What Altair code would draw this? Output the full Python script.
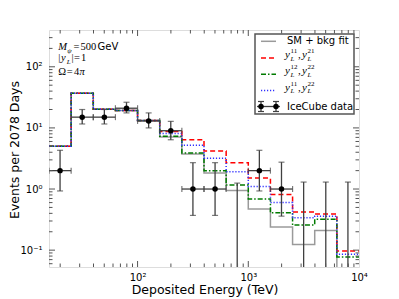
import altair as alt
import pandas as pd

# ---------------- data ----------------
bin_edges = [15.85, 25.12, 39.81, 63.10, 100.0, 158.5, 251.2, 398.1, 631.0,
             1000.0, 1585.0, 2512.0, 3981.0, 6310.0, 10000.0]
sm_fit = [5.0, 37.0, 20.2, 19.2, 13.2, 7.1, 3.75, 1.83, 0.95, 0.47, 0.24, 0.124, 0.21, 0.03]
y11_y21 = [5.0, 37.0, 20.2, 19.2, 13.2, 8.7, 6.4, 4.2, 2.7, 1.51, 0.81, 0.42, 0.39, 0.097]
y12_y22 = [5.0, 37.0, 20.2, 19.2, 13.2, 7.3, 3.9, 2.0, 1.16, 0.69, 0.41, 0.257, 0.32, 0.077]
y11_y22 = [5.0, 37.0, 20.2, 19.2, 13.2, 8.1, 5.2, 3.2, 1.92, 1.1, 0.60, 0.34, 0.36, 0.086]

ice_center = [19.95, 31.62, 50.12, 79.43, 125.9, 199.5, 316.2, 501.2, 794.3,
              1259.0, 1995.0, 3162.0, 5012.0, 7943.0]
ice_counts = [2, 15, 15, 21, 13, 9, 1, 1, 0, 2, 1, 0, 0, 0]
ice_upper = [4.3, 20.0, 20.0, 26.3, 17.6, 12.8, 2.7, 2.7, 1.25, 4.3, 2.75, 1.3, 1.3, 1.3]
ice_lower = [0.93, 11.6, 11.6, 17.6, 10.0, 6.4, 0.37, 0.37, 0.0, 0.93, 0.36, 0.0, 0.0, 0.0]

x_major = [100, 1000]
x_minor = [20, 30, 40, 50, 60, 70, 80, 90, 200, 300, 400, 500, 600, 700, 800, 900,
           2000, 3000, 4000, 5000, 6000, 7000, 8000, 9000]
y_major = [0.1, 1, 10, 100]
y_minor = [0.06, 0.07, 0.08, 0.09, 0.2, 0.3, 0.4, 0.5, 0.6, 0.7, 0.8, 0.9,
           2, 3, 4, 5, 6, 7, 8, 9, 20, 30, 40, 50, 60, 70, 80, 90, 200, 300]
x_tick_labels = [100, 1000, 10000]
y_tick_labels = [0.1, 1, 10, 100]

# ---------------- layout / styling ----------------
W, H = 310, 237
XD = [15.85, 10000]
YD = [0.053, 400]
FRAME = "#555555"
SANS = "DejaVu Sans"
SERIF = "Liberation Serif"

xs = alt.Scale(type="log", domain=XD, nice=False)
ys = alt.Scale(type="log", domain=YD, nice=False)

x_axis = alt.Axis(values=x_tick_labels, ticks=False, domain=False, grid=False, title=None,
                  labelPadding=5, labelFontSize=10, labelFont=SANS, labelColor="black",
                  labelOverlap=False, labelFlush=False,
                  labelExpr="datum.value >= 5000 ? '10⁴' : datum.value >= 500 ? '10³' : '10²'")
y_axis = alt.Axis(values=y_tick_labels, ticks=False, domain=False, grid=False, title=None,
                  labelPadding=7, labelFontSize=10, labelFont=SANS, labelColor="black",
                  labelOverlap=False, labelFlush=False,
                  labelExpr="datum.value >= 50 ? '10²' : datum.value >= 5 ? '10¹' : datum.value >= 0.5 ? '10⁰' : '10⁻¹'")


def X(f):
    return alt.X(f, scale=xs, axis=x_axis)


def Y(f):
    return alt.Y(f, scale=ys, axis=y_axis)


def step_df(vals):
    return pd.DataFrame({"e": bin_edges, "v": list(vals) + [vals[-1]]})


def step_line(vals, color, dash):
    return alt.Chart(step_df(vals)).mark_line(
        interpolate="step-after", color=color, strokeWidth=1.5, strokeDash=dash, clip=True
    ).encode(x=X("e:Q"), y=Y("v:Q"))


series = [
    (sm_fit, "#9a9a9a", [1, 0]),
    (y11_y21, "#ff0000", [5, 3]),
    (y12_y22, "#007a00", [5, 2, 1.5, 2]),
    (y11_y22, "#3030ff", [1.2, 1.8]),
]

layers = [step_line(vals, col, dash) for vals, col, dash in series]

# IceCube data
ice = pd.DataFrame({
    "c": ice_center, "n": ice_counts, "hi": ice_upper,
    "lo": [v if v > 0 else 0.001 for v in ice_lower],
    "x0": bin_edges[:-1], "x1": bin_edges[1:],
})
ice_pos = ice[ice["n"] > 0]
EB = "#404040"

layers.append(alt.Chart(ice).mark_rule(color=EB, strokeWidth=1.3, clip=True).encode(
    x=X("c:Q"), y=Y("lo:Q"), y2="hi:Q"))
layers.append(alt.Chart(ice).mark_tick(orient="horizontal", size=6, thickness=1.2, color=EB, clip=True).encode(
    x=X("c:Q"), y=Y("hi:Q")))
layers.append(alt.Chart(ice).mark_tick(orient="horizontal", size=6, thickness=1.2, color=EB, clip=True).encode(
    x=X("c:Q"), y=Y("lo:Q")))
layers.append(alt.Chart(ice_pos).mark_rule(color=EB, strokeWidth=1.3, clip=True).encode(
    x=X("x0:Q"), x2="x1:Q", y=Y("n:Q")))
layers.append(alt.Chart(ice_pos).mark_tick(orient="vertical", size=6, thickness=1.2, color=EB, clip=True).encode(
    x=X("x0:Q"), y=Y("n:Q")))
layers.append(alt.Chart(ice_pos).mark_tick(orient="vertical", size=6, thickness=1.2, color=EB, clip=True).encode(
    x=X("x1:Q"), y=Y("n:Q")))
layers.append(alt.Chart(ice_pos).mark_circle(color="black", size=30, opacity=1).encode(
    x=X("c:Q"), y=Y("n:Q")))


# inward ticks on all four sides
def xticks(vals, ln):
    b = alt.Chart(pd.DataFrame({"t": vals})).mark_rule(color=FRAME, strokeWidth=1)
    return [
        b.encode(x=X("t:Q"), y=alt.value(H), y2=alt.value(H - ln)),
        b.encode(x=X("t:Q"), y=alt.value(0), y2=alt.value(ln)),
    ]


def yticks(vals, ln):
    b = alt.Chart(pd.DataFrame({"t": vals})).mark_rule(color=FRAME, strokeWidth=1)
    return [
        b.encode(y=Y("t:Q"), x=alt.value(0), x2=alt.value(ln)),
        b.encode(y=Y("t:Q"), x=alt.value(W), x2=alt.value(W - ln)),
    ]


layers += xticks(x_major, 6) + xticks(x_minor, 3.5) + yticks(y_major, 6) + yticks(y_minor, 3.5)

one = pd.DataFrame({"a": [0]})


def txt(s, x, y, size=11, font=SANS, style="normal", align="left", baseline="alphabetic", angle=0):
    return alt.Chart(one).mark_text(text=s, fontSize=size, font=font, fontStyle=style, align=align,
                                    baseline=baseline, angle=angle, color="black").encode(
        x=alt.value(x), y=alt.value(y))


def rule(x1, x2, y1, y2, color, width=1.5, dash=None):
    kw = dict(color=color, strokeWidth=width)
    if dash:
        kw["strokeDash"] = dash
    return alt.Chart(one).mark_rule(**kw).encode(
        x=alt.value(x1), x2=alt.value(x2), y=alt.value(y1), y2=alt.value(y2))


# axis titles
layers.append(txt("Deposited Energy (TeV)", 156, 264, size=12.5, align="center"))
layers.append(txt("Events per 2078 Days", -34, 120, size=12.5, align="center", baseline="middle", angle=270))

# annotation (top-left)
FS = 10.5
layers += [
    txt("M", 9.3, 20, size=FS, font=SERIF, style="italic"),
    txt("ψ", 18.3, 22.5, size=7, font=SERIF, style="italic"),
    txt("=", 24.5, 20, size=FS, font=SERIF),
    txt("500", 31.5, 20, size=FS, font=SERIF),
    txt("GeV", 48.5, 20, size=10),
    txt("|", 9.3, 31, size=FS, font=SERIF),
    txt("y", 12, 31, size=FS, font=SERIF, style="italic"),
    txt("L", 17.8, 33.5, size=7, font=SERIF, style="italic"),
    txt("|", 22.5, 31, size=FS, font=SERIF),
    txt("=", 25, 31, size=FS, font=SERIF),
    txt("1", 32, 31, size=FS, font=SERIF),
    txt("Ω", 9.3, 44.5, size=FS, font=SERIF),
    txt("=", 17.7, 44.5, size=FS, font=SERIF),
    txt("4", 25, 44.5, size=FS, font=SERIF),
    txt("π", 30.5, 44.5, size=FS, font=SERIF, style="italic"),
]

# legend
layers.append(alt.Chart(one).mark_rect(fill="white", stroke=FRAME, strokeWidth=1.5).encode(
    x=alt.value(206), x2=alt.value(305), y=alt.value(4), y2=alt.value(84)))
rows = [11.3, 28.0, 44.3, 60.6, 76.5]
lx1, lx2, tx = 212, 227, 238
layers.append(rule(lx1, lx2, rows[0], rows[0], "#9a9a9a"))
layers.append(txt("SM + bkg fit", tx, rows[0], size=10, baseline="middle"))
sups = [("11", "21"), ("12", "22"), ("11", "22")]
for (vals, col, dash), r, (s1, s2) in zip(series[1:], rows[1:4], sups):
    layers.append(rule(lx1, lx2, r, r, col, dash=dash))
    layers += [
        txt("y", 236, r, size=11, font=SERIF, style="italic"),
        txt("L", 241.5, r + 2.5, size=7, font=SERIF, style="italic"),
        txt(s1, 241.5, r - 5, size=7, font=SERIF),
        txt(",", 249, r, size=11, font=SERIF),
        txt("y", 253, r, size=11, font=SERIF, style="italic"),
        txt("L", 258.5, r + 2.5, size=7, font=SERIF, style="italic"),
        txt(s2, 258.5, r - 5, size=7, font=SERIF),
    ]
r = rows[4]
layers.append(rule(lx1 - 4, lx2 + 4, r, r, EB, width=1.3))
for px in (lx1, lx2):
    layers.append(rule(px, px, r - 5, r + 5, EB, width=1.3))
    layers.append(rule(px - 3, px + 3, r - 5, r - 5, EB, width=1.2))
    layers.append(rule(px - 3, px + 3, r + 5, r + 5, EB, width=1.2))
    layers.append(alt.Chart(one).mark_circle(color="black", size=30, opacity=1).encode(
        x=alt.value(px), y=alt.value(r)))
layers.append(txt("IceCube data", tx, r, size=10, baseline="middle"))

chart = alt.layer(*layers).properties(
    width=W, height=H,
    padding={"left": 41, "top": 22, "right": 30, "bottom": 30},
    autosize=alt.AutoSizeParams(type="none"),
).configure_view(stroke=FRAME, strokeWidth=1.5).configure(background="white")

chart.save("out.html", embed_options={"renderer": "svg", "actions": False})
